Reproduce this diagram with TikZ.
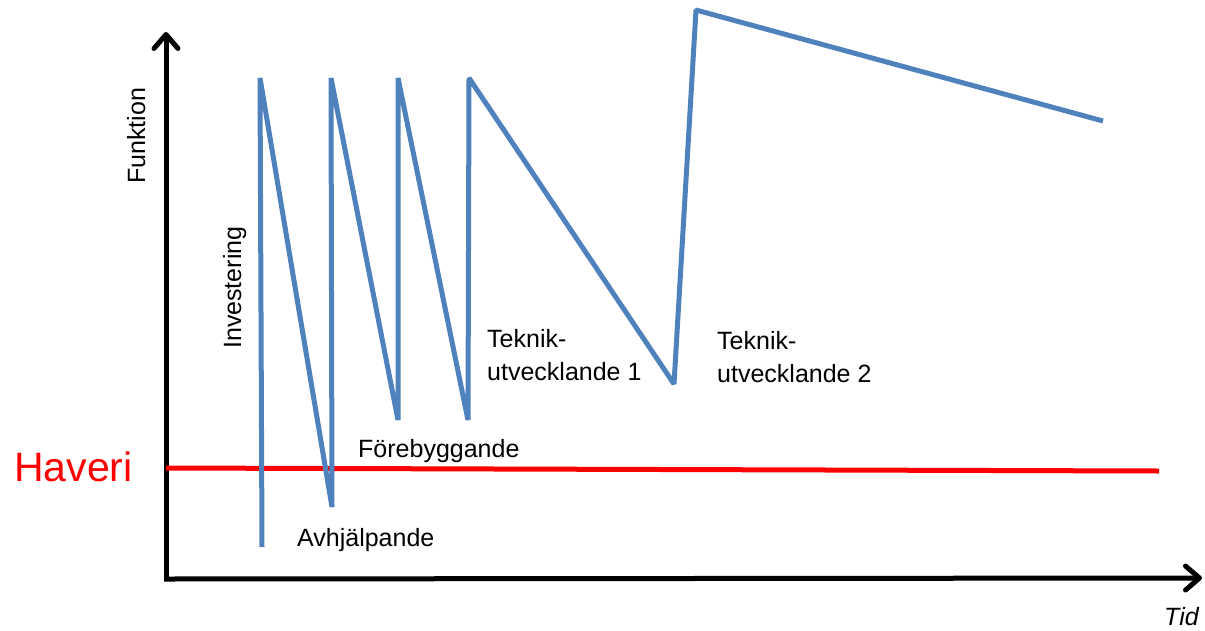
\documentclass[tikz,border=0pt]{standalone}
\usepackage{fontspec}
\setmainfont{Liberation Sans}
\usetikzlibrary{arrows.meta}
\definecolor{lineblue}{HTML}{4F81BD}
\definecolor{havred}{HTML}{FF0000}
\begin{document}
\begin{tikzpicture}[x=1pt,y=-1pt,
  axisline/.style={line width=5pt,-{Straight Barb[length=14pt,width=24pt,line cap=round,line join=round]}},
  curve/.style={line width=5pt,draw=lineblue,line join=bevel},
  limit/.style={line width=5pt,draw=havred},
  lbl/.style={font=\fontsize{25}{33}\selectfont,inner sep=0pt,align=left},
]
\useasboundingbox (0,0) rectangle (1205,630);
% axes
\coordinate (o) at (166,580);
\coordinate (ytip) at (166,32);
\coordinate (xtip) at (1202,578);
\draw[axisline] (166,581) -- (ytip);
\draw[axisline] (164,579) -- (xtip);
% haveri line
\coordinate (h0) at (166,468);
\coordinate (h1) at (1159,471);
\draw[limit] (h0) -- (h1);
% blue curve
\coordinate (p0) at (262,547);
\coordinate (p1) at (260,78);
\coordinate (p2) at (332,507);
\coordinate (p3) at (331,78);
\coordinate (p4) at (398,420);
\coordinate (p5) at (398,78);
\coordinate (p6) at (468,420);
\coordinate (p7) at (469,78);
\coordinate (p8) at (674,384);
\coordinate (p9) at (696,10);
\coordinate (p10) at (1103,121);
\draw[curve] (p0) -- (p1) -- (p2) -- (p3) -- (p4) -- (p5) -- (p6) -- (p7) -- (p8) -- (p9) -- (p10);
% labels
\node[lbl,anchor=base west,text=havred,font=\fontsize{41}{45}\selectfont] (haveri) at (14,481) {Haveri};
\node[lbl,anchor=base west,rotate=90] (funk) at (145,184) {Funktion};
\node[lbl,anchor=base west,rotate=90] (inv) at (241,349) {Investering};
\node[lbl,anchor=base west] (avh) at (297,546) {Avhjälpande};
\node[lbl,anchor=base west] (fore) at (358,457) {Förebyggande};
\node[lbl,anchor=base west] (tek1) at (487,380) {Teknik-\\utvecklande 1};
\node[lbl,anchor=base west] (tek2) at (717,382) {Teknik-\\utvecklande 2};
\node[lbl,anchor=base west,font=\fontsize{25}{33}\selectfont\itshape] (tid) at (1164,625) {Tid};
\end{tikzpicture}
\end{document}
